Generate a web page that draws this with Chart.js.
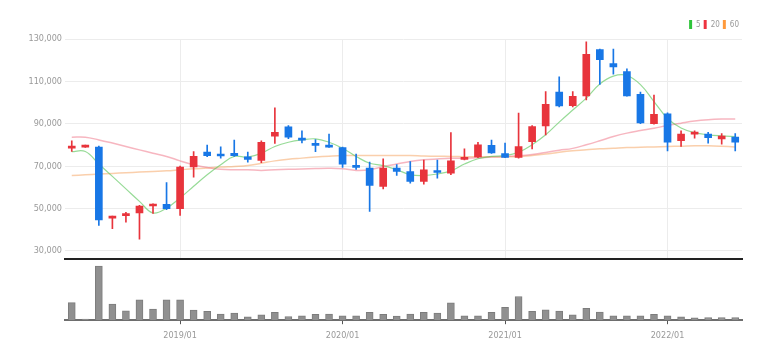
<!DOCTYPE html>
<html>
<head>
<meta charset="utf-8">
<script src="https://cdn.jsdelivr.net/npm/chart.js@4/dist/chart.umd.min.js"></script>
<style>
  html, body { margin: 0; padding: 0; background: #fff; }
  #wrap { position: relative; width: 782px; height: 359px; overflow: hidden; }
  canvas { position: absolute; left: 0; }
  #price { top: 0; }
  #volume { top: 259px; }
</style>
</head>
<body>
<div id="wrap">
  <canvas id="price" width="782" height="267"></canvas>
  <canvas id="volume" width="782" height="100"></canvas>
</div>
<script>
// ---- data (monthly candles) ----
const categories = [
  '2018/05','2018/06','2018/07','2018/08','2018/09','2018/10','2018/11','2018/12',
  '2019/01','2019/02','2019/03','2019/04','2019/05','2019/06','2019/07','2019/08','2019/09','2019/10','2019/11','2019/12',
  '2020/01','2020/02','2020/03','2020/04','2020/05','2020/06','2020/07','2020/08','2020/09','2020/10','2020/11','2020/12',
  '2021/01','2021/02','2021/03','2021/04','2021/05','2021/06','2021/07','2021/08','2021/09','2021/10','2021/11','2021/12',
  '2022/01','2022/02','2022/03','2022/04','2022/05','2022/06'
];
const openP  = [78500,79000,79000,45500,46600,47900,51200,52000,49900,69600,76600,75400,76100,74400,72700,84200,88600,83200,80500,79800,
                78800,70000,69100,60500,69100,67500,62800,67700,66700,73200,74400,79800,76000,74100,81600,89000,104900,98600,103200,125000,
                118400,114600,103900,90100,94700,82000,85100,85100,82900,83700];
const highP  = [82000,80000,79500,46500,48200,51500,52200,62300,70000,76900,80000,79100,82300,76600,82000,97500,89200,86700,82600,85100,
                79000,75700,71900,73500,70700,72200,72900,72900,85900,78200,81300,82300,80900,95000,89200,105200,112100,105200,128700,125300,
                125300,115900,104900,103600,95200,86700,86700,86000,85400,85400];
const lowP   = [77000,78800,42100,40500,43600,35600,47700,49500,46800,64800,74500,73800,74600,71900,71600,80700,83000,81000,76900,78800,
                69400,68500,48700,59300,65600,62000,61500,64400,66000,73000,74000,76000,74000,73800,78200,84800,98000,98000,101300,108600,
                113400,103000,90000,89800,77200,79300,83200,80900,80400,77200];
const closeP = [79000,79500,44600,46300,47600,51200,51800,49900,69600,74600,75000,74800,75000,73200,81300,86000,83700,82300,79800,79000,
                71000,69400,60900,69100,67500,62800,68300,67000,72500,73800,80100,76300,74100,79300,88700,99200,98400,103000,122800,120300,
                116800,103200,90400,94500,81300,85100,86000,83400,84200,81300];
const vol    = [52,3,160,48,28,60,33,60,60,30,26,18,21,10,16,23,11,13,17,18,
                13,13,23,17,12,18,23,21,51,13,13,23,38,70,26,31,27,16,35,24,
                13,13,13,17,13,10,7,8,8,8];
const ma5    = [76900,76900,71000,65200,59300,53400,47900,50200,55000,60500,66000,70700,74600,74300,76100,79300,81300,82400,82900,81300,
                78500,74600,71400,70300,68300,66000,65600,66300,67800,71000,73500,74600,75000,76600,80100,84800,90800,96500,102100,108800,
                112500,112800,108500,100500,92500,88000,85800,84800,84300,84000];
const ma20   = [83700,83700,82400,80900,79300,77700,76100,74600,72500,70700,69400,68500,68300,68300,68000,68300,68500,68700,68900,69000,
                68800,68000,68300,69800,71000,72200,73000,73400,73700,73800,74000,74300,74600,74900,75500,76500,77500,78400,80100,82000,
                84000,85600,86800,87900,89200,90300,91300,91900,92200,92300];
const ma60   = [65600,65900,66300,66600,66900,67200,67500,67800,68300,68800,69100,69600,69900,70300,71400,72500,73300,73800,74300,74700,
                75000,75000,75000,75000,75000,75000,74800,74700,74600,74500,74500,74400,74400,74500,75000,75700,76600,77300,77700,78200,
                78500,78800,78900,79100,79300,79400,79600,79600,79400,79100];
const priceTicks = [30000, 50000, 70000, 90000, 110000, 130000];
const maLabels = ['5', '20', '60'];

// ---- styling ----
const UP = '#e8343c', DOWN = '#1877e6';
const FONT = "'Liberation Sans Narrow', 'DejaVu Sans Condensed', 'Liberation Sans', sans-serif";
const isYear = (i) => categories[i] && categories[i].endsWith('/01');
const candleColors = closeP.map((c, i) => (c >= openP[i] ? UP : DOWN));
const bodies = categories.map((_, i) => [openP[i], closeP[i]]);
const wicks = categories.map((_, i) => [lowP[i], highP[i]]);
const LEFT_W = 65;

Chart.defaults.font.family = FONT;
Chart.defaults.animation = false;

new Chart(document.getElementById('price'), {
  type: 'bar',
  data: {
    labels: categories,
    datasets: [
      { type: 'line', label: maLabels[0], data: ma5, borderColor: 'rgba(95,200,95,0.65)', legendColor: '#2fc43a',
        borderWidth: 1.2, pointRadius: 0, tension: 0.4, order: 3 },
      { type: 'line', label: maLabels[1], data: ma20, borderColor: 'rgba(240,110,130,0.5)', legendColor: '#ee3340',
        borderWidth: 1.5, pointRadius: 0, tension: 0.4, order: 4 },
      { type: 'line', label: maLabels[2], data: ma60, borderColor: 'rgba(245,160,90,0.5)', legendColor: '#ff9a3c',
        borderWidth: 1.5, pointRadius: 0, tension: 0.4, order: 5 },
      { label: 'wick', data: wicks, backgroundColor: candleColors, barThickness: 1, grouped: false, order: 2 },
      { label: 'body', data: bodies, backgroundColor: candleColors, barThickness: 7, minBarLength: 2, grouped: false, order: 1 }
    ]
  },
  options: {
    responsive: false,
    devicePixelRatio: 1,
    layout: { padding: { left: 0, right: 40, top: 17, bottom: 2 } },
    plugins: {
      tooltip: { enabled: false },
      legend: {
        position: 'top', align: 'end',
        labels: {
          boxWidth: 3, boxHeight: 9, padding: 3, color: '#999',
          font: { size: 8, family: FONT },
          generateLabels: (chart) => chart.data.datasets
            .map((d, i) => ({ text: d.label, fillStyle: d.legendColor, strokeStyle: d.legendColor, lineWidth: 0,
                              hidden: false, datasetIndex: i, fontColor: '#999', isLine: d.type === 'line' }))
            .filter(it => it.isLine)
        }
      }
    },
    scales: {
      x: {
        offset: true,
        ticks: { display: false },
        grid: { offset: false, drawTicks: false, color: (c) => (isYear(c.index) ? '#ececec' : 'rgba(0,0,0,0)') },
        border: { display: true, color: '#222', width: 2 }
      },
      y: {
        min: 26400, max: 130000,
        afterBuildTicks: (s) => { s.ticks = priceTicks.map(v => ({ value: v })); },
        afterFit: (s) => { s.width = LEFT_W; },
        ticks: { padding: 3, color: '#999', font: { size: 9, family: FONT },
                 callback: (v) => v.toLocaleString('en-US') },
        grid: { color: '#ececec', drawTicks: false },
        border: { display: false }
      }
    }
  }
});

new Chart(document.getElementById('volume'), {
  type: 'bar',
  data: {
    labels: categories,
    datasets: [
      { label: 'volume', data: vol, backgroundColor: '#909090', borderColor: '#7c7c7c', borderWidth: 1, barThickness: 7 }
    ]
  },
  options: {
    responsive: false,
    devicePixelRatio: 1,
    layout: { padding: { left: 0, right: 40, top: 3, bottom: 12 } },
    plugins: { tooltip: { enabled: false }, legend: { display: false } },
    scales: {
      x: {
        offset: true,
        ticks: { autoSkip: false, maxRotation: 0, padding: 6, color: '#999', font: { size: 9, family: FONT },
                 callback: (v, i) => (isYear(i) ? categories[i] : '') },
        grid: { offset: false, drawOnChartArea: false, tickLength: 4,
                tickColor: (c) => (isYear(c.index) ? '#555' : 'rgba(0,0,0,0)') },
        border: { display: true, color: '#6e6e6e', width: 2 }
      },
      y: {
        min: 0, max: 172,
        afterFit: (s) => { s.width = LEFT_W; },
        ticks: { display: false },
        grid: { display: false },
        border: { display: false }
      }
    }
  }
});
</script>
</body>
</html>
